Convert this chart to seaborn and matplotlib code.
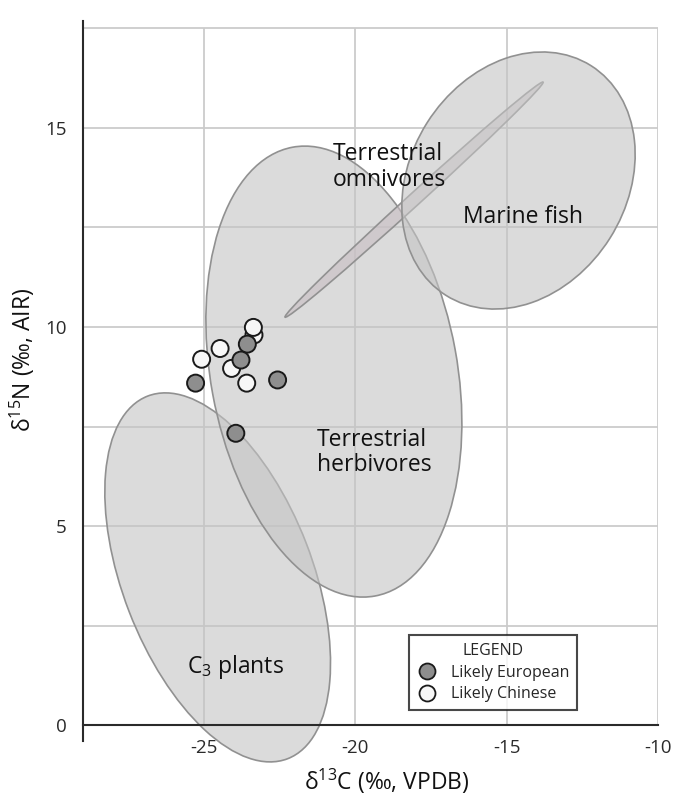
import numpy as np
import pandas as pd
import matplotlib
matplotlib.use("Agg")
import matplotlib.pyplot as plt
import seaborn as sns
from matplotlib.patches import Circle
from matplotlib.transforms import Affine2D
from matplotlib.lines import Line2D
from matplotlib.colors import to_rgba

# ---------------- data ----------------
eur_x = [-25.28, -22.57, -23.95, -23.57, -23.78]
eur_y = [8.59, 8.67, 7.33, 9.57, 9.17]
chn_x = [-25.08, -24.47, -24.09, -23.59, -23.35, -23.37]
chn_y = [9.19, 9.46, 8.96, 8.59, 9.80, 9.99]

# ellipses: centre and two semi-axis vectors (data units)
ell_names = ["C3 plants", "Terrestrial herbivores", "Terrestrial omnivores", "Marine fish"]
ell_cx = [-24.55, -20.71, -18.06, -14.61]
ell_cy = [3.71, 8.88, 13.20, 13.68]
ell_ux = [-2.312, -1.361, 4.263, 2.398]
ell_uy = [4.555, 5.637, 2.952, 2.884]
ell_vx = [-2.926, -4.005, -0.140, -3.019]
ell_vy = [-0.858, -0.559, 0.117, 1.452]
ell_fill = ["#c4c4c4", "#c4c4c4", "#c8bec3", "#c4c4c4"]

label_text = ["C$_3$ plants", "Terrestrial\nherbivores", "Terrestrial\nomnivores", "Marine fish"]
label_x = [-25.57, -21.26, -20.76, -14.45]
label_y = [1.46, 6.85, 14.02, 12.77]
label_ha = ["left", "left", "left", "center"]

x_ticks = [-25, -20, -15, -10]
y_ticks = [0, 5, 10, 15]
y_grid = [2.5, 5, 7.5, 10, 12.5, 15, 17.5]

# ---------------- style ----------------
sns.set_style("white")
plt.rcParams["font.family"] = ["Open Sans", "DejaVu Sans"]
plt.rcParams["mathtext.fontset"] = "custom"
plt.rcParams["mathtext.rm"] = "Open Sans"
plt.rcParams["mathtext.it"] = "Open Sans:italic"
plt.rcParams["mathtext.bf"] = "Open Sans:bold"
plt.rcParams["axes.unicode_minus"] = False

fig = plt.figure(figsize=(6.88, 7.97), dpi=100)
ax = fig.add_axes([83 / 688, 56 / 797, 575 / 688, 720.5 / 797])
ax.set_xlim(-29, -10)
ax.set_ylim(-0.4, 17.7)

# grid (limited box)
grid_kw = dict(color="#cbcbcb", lw=1.3, zorder=0)
ax.vlines(x_ticks, 0, 17.5, **grid_kw)
ax.hlines(y_grid, -29, -10, **grid_kw)

# ellipses
for i in range(len(ell_names)):
    m = np.array([[ell_ux[i], ell_vx[i], ell_cx[i]],
                  [ell_uy[i], ell_vy[i], ell_cy[i]],
                  [0, 0, 1]])
    tr = Affine2D(m) + ax.transData
    p = Circle((0, 0), 1, transform=tr, facecolor=to_rgba(ell_fill[i], 0.6),
               edgecolor="#919191", lw=1.2, clip_on=False, zorder=1)
    ax.add_patch(p)

for t, x, y, ha in zip(label_text, label_x, label_y, label_ha):
    ax.text(x, y, t, ha=ha, va="center", fontsize=16.5, color="#111111",
            linespacing=1.1, zorder=2)

# points
df = pd.DataFrame({
    "d13C": chn_x + eur_x,
    "d15N": chn_y + eur_y,
    "group": ["Likely Chinese"] * len(chn_x) + ["Likely European"] * len(eur_x),
})
pal = {"Likely European": "#8e8e8e", "Likely Chinese": "#f7f7f7"}
sns.scatterplot(data=df, x="d13C", y="d15N", hue="group", palette=pal, s=150,
                edgecolor="#1a1a1a", linewidth=1.4, legend=False, ax=ax, zorder=3)

# axes
for s in ["top", "right"]:
    ax.spines[s].set_visible(False)
ax.spines["bottom"].set_position(("data", 0))
for s in ["left", "bottom"]:
    ax.spines[s].set_color("#2a2a2a")
    ax.spines[s].set_linewidth(1.5)
ax.set_xticks(x_ticks)
ax.set_yticks(y_ticks)
ax.tick_params(axis="both", labelsize=13.5, colors="#2a2a2a", direction="out")
ax.tick_params(axis="x", length=3, pad=7)
ax.tick_params(axis="y", length=6, width=1.2, pad=6)

ax.set_xlabel("δ$^{13}$C (‰, VPDB)", fontsize=16.5, color="#111111")
ax.set_ylabel("δ$^{15}$N (‰, AIR)", fontsize=16.5, color="#111111")
ax.xaxis.set_label_coords(0.528, -0.036)
ax.yaxis.set_label_coords(-0.08, 0.529)

handles = [
    Line2D([], [], marker="o", ls="", markersize=11.5, markerfacecolor=pal["Likely European"],
           markeredgecolor="#1a1a1a", markeredgewidth=1.3, label="Likely European"),
    Line2D([], [], marker="o", ls="", markersize=11.5, markerfacecolor=pal["Likely Chinese"],
           markeredgecolor="#1a1a1a", markeredgewidth=1.3, label="Likely Chinese"),
]
leg = ax.legend(handles=handles, title="LEGEND", loc="upper left",
                bbox_to_anchor=(0.5675, 0.1471), fontsize=11.5, title_fontsize=11.5,
                frameon=True, fancybox=False, edgecolor="#1a1a1a", borderpad=0.5,
                handletextpad=0.9, labelspacing=0.35, handlelength=1.2, borderaxespad=0)
leg.get_frame().set_linewidth(1.5)
leg.set_zorder(5)

fig.savefig("out.png", dpi=100)
